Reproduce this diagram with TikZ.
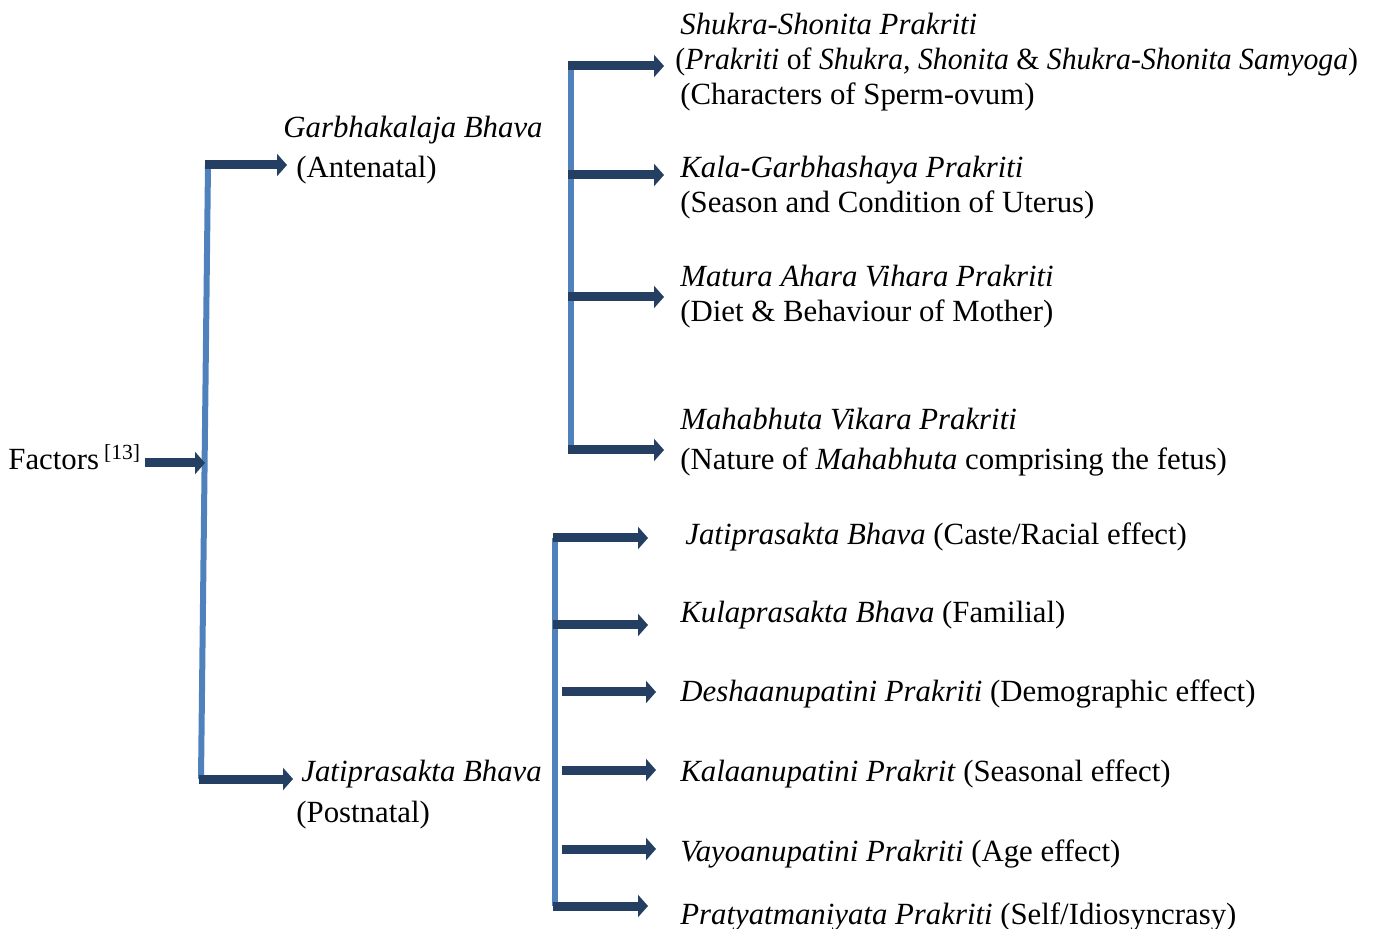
\documentclass[tikz,border=0pt]{standalone}
\usepackage{fontspec}
\setmainfont{Liberation Serif}
\usetikzlibrary{arrows.meta}
\definecolor{FlowNavy}{RGB}{36,63,98}
\definecolor{StemBlue}{RGB}{79,129,189}
\tikzset{
  stem/.style={draw=StemBlue,line width=3pt},
  pointer/.style={draw=FlowNavy,line width=4.5pt,-{Triangle[length=5pt,width=11pt]}},
  lbl/.style={anchor=base west,inner sep=0pt,font=\fontsize{15.4}{18}\selectfont},
}

\begin{document}
\begin{tikzpicture}[x=0.5pt,y=-0.5pt]
\useasboundingbox (0,0) rectangle (1381,929);
% branch points
\coordinate (f0) at (145,463);
\coordinate (f1) at (205,463);
\coordinate (m0) at (208,165);
\coordinate (m1) at (201,779);
\coordinate (a0) at (205,165);
\coordinate (a1) at (287,165);
\coordinate (b0) at (199,779);
\coordinate (b1) at (293,779);
\coordinate (u0) at (571,66);
\coordinate (u1) at (571,450);
\coordinate (l0) at (555,538);
\coordinate (l1) at (555,906);
% arrow ends, upper group
\coordinate (ua0) at (568,66);   \coordinate (ub0) at (664,66);
\coordinate (ua1) at (568,175);  \coordinate (ub1) at (664,175);
\coordinate (ua2) at (568,297);  \coordinate (ub2) at (664,297);
\coordinate (ua3) at (568,450);  \coordinate (ub3) at (664,450);
% arrow ends, lower group
\coordinate (la0) at (553,538);  \coordinate (lb0) at (648,538);
\coordinate (la1) at (553,625);  \coordinate (lb1) at (648,625);
\coordinate (la2) at (562,692);  \coordinate (lb2) at (656,692);
\coordinate (la3) at (562,770);  \coordinate (lb3) at (656,770);
\coordinate (la4) at (562,849);  \coordinate (lb4) at (656,849);
\coordinate (la5) at (553,906);  \coordinate (lb5) at (648,906);

\draw[stem] (m0) -- (m1);
\draw[stem] (u0) -- (u1);
\draw[stem] (l0) -- (l1);

\draw[pointer] (f0) -- (f1);
\draw[pointer] (a0) -- (a1);
\draw[pointer] (b0) -- (b1);
\draw[pointer] (ua0) -- (ub0);
\draw[pointer] (ua1) -- (ub1);
\draw[pointer] (ua2) -- (ub2);
\draw[pointer] (ua3) -- (ub3);
\draw[pointer] (la0) -- (lb0);
\draw[pointer] (la1) -- (lb1);
\draw[pointer] (la2) -- (lb2);
\draw[pointer] (la3) -- (lb3);
\draw[pointer] (la4) -- (lb4);
\draw[pointer] (la5) -- (lb5);

% left side
\node[lbl] (fac) at (8,470) {Factors\,\textsuperscript{[13]}};
\node[lbl] (garbha) at (283,138) {\textit{Garbhakalaja Bhava}};
\node[lbl] (garbhasub) at (296,178) {(Antenatal)};
\node[lbl] (jati) at (301,782) {\textit{Jatiprasakta Bhava}};
\node[lbl] (jatisub) at (296,822) {(Postnatal)};

% upper group
\node[lbl] (shukra) at (680,35) {\textit{Shukra-Shonita Prakriti}};
\node[lbl] (shukrab) at (675,70) {\scalebox{0.965}[1]{(\textit{Prakriti} of \textit{Shukra, Shonita} \& \textit{Shukra-Shonita Samyoga})}};
\node[lbl] (shukrac) at (680,105) {(Characters of Sperm-ovum)};
\node[lbl] (kala) at (680,178) {\textit{Kala-Garbhashaya Prakriti}};
\node[lbl] (kalab) at (680,213) {(Season and Condition of Uterus)};
\node[lbl] (matura) at (680,287) {\textit{Matura Ahara Vihara Prakriti}};
\node[lbl] (maturab) at (680,322) {(Diet \& Behaviour of Mother)};
\node[lbl] (maha) at (680,430) {\textit{Mahabhuta Vikara Prakriti}};
\node[lbl] (mahab) at (680,470) {(Nature of \textit{Mahabhuta} comprising the fetus)};

% lower group
\node[lbl] (caste) at (685,545) {\textit{Jatiprasakta Bhava} (Caste/Racial effect)};
\node[lbl] (kula) at (680,623) {\textit{Kulaprasakta Bhava} (Familial)};
\node[lbl] (desha) at (680,702) {\textit{Deshaanupatini Prakriti} (Demographic effect)};
\node[lbl] (kalaa) at (680,782) {\textit{Kalaanupatini Prakrit} (Seasonal effect)};
\node[lbl] (vayo) at (680,861) {\textit{Vayoanupatini Prakriti} (Age effect)};
\node[lbl] (pratya) at (680,924) {\textit{Pratyatmaniyata Prakriti} (Self/Idiosyncrasy)};
\end{tikzpicture}
\end{document}
